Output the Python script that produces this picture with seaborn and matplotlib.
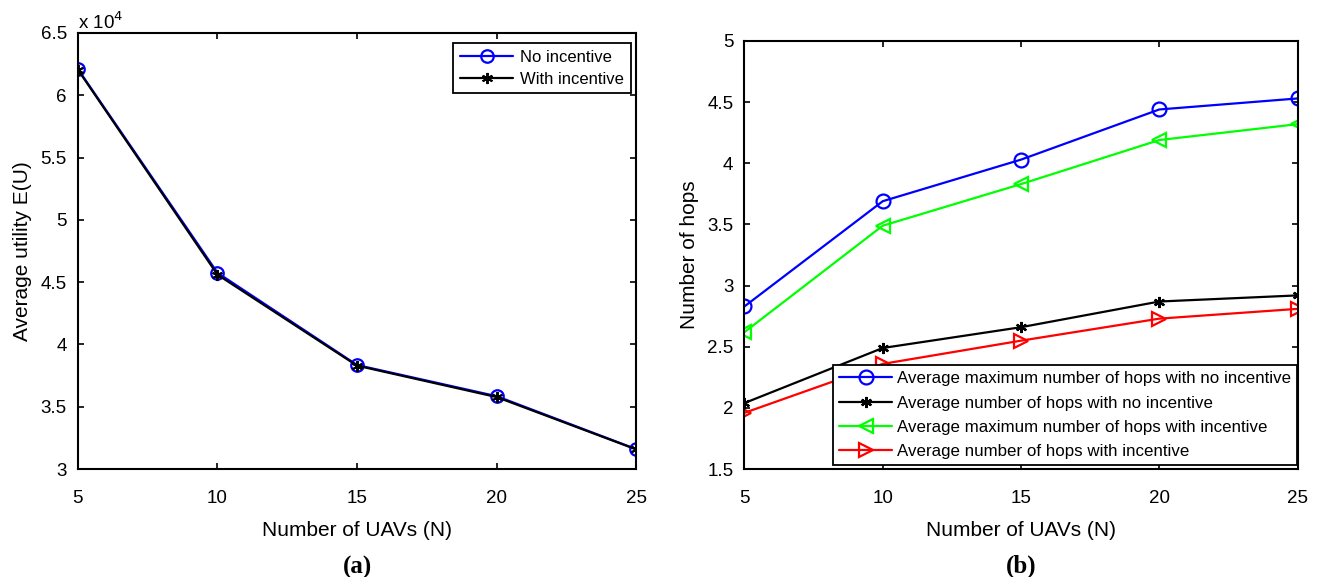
import numpy as np
import pandas as pd
import matplotlib
matplotlib.use("Agg")
import matplotlib.pyplot as plt
from matplotlib.ticker import FuncFormatter
import seaborn as sns

# Number of UAVs
n_uavs = [5, 10, 15, 20, 25]

# (a) average utility E(U)
utility_no_incentive = [62100, 45750, 38350, 35850, 31600]
utility_with_incentive = [62050, 45600, 38300, 35780, 31580]

# (b) number of hops
max_hops_no_incentive = [2.83, 3.69, 4.03, 4.44, 4.53]
avg_hops_no_incentive = [2.04, 2.49, 2.66, 2.87, 2.92]
max_hops_with_incentive = [2.62, 3.49, 3.83, 4.19, 4.32]
avg_hops_with_incentive = [1.96, 2.36, 2.55, 2.73, 2.81]

sns.set_style("ticks")
plt.rcParams["font.family"] = ["Liberation Sans", "DejaVu Sans"]
plt.rcParams["xtick.direction"] = "in"
plt.rcParams["ytick.direction"] = "in"
plt.rcParams["text.color"] = "black"
plt.rcParams["axes.labelcolor"] = "black"
plt.rcParams["xtick.color"] = "black"
plt.rcParams["ytick.color"] = "black"

fig = plt.figure(figsize=(13.2, 5.77), dpi=100)
ax1 = fig.add_axes([0.059, 0.187, 0.423, 0.756])
ax2 = fig.add_axes([0.564, 0.187, 0.419, 0.742])

asterisk = (6, 2, 0)
LW = 1.6

# ---- (a) utility ----
df_a = pd.DataFrame({
    "N": n_uavs * 2,
    "U": utility_no_incentive + utility_with_incentive,
    "s": ["No incentive"] * 5 + ["With incentive"] * 5,
})
styles_a = {
    "No incentive": dict(color="#0000ff", marker="o", mfc="none", ms=9, mew=1.6),
    "With incentive": dict(color="black", marker=asterisk, mfc="black", ms=8, mew=1.4),
}
for name, st in styles_a.items():
    sub = df_a[df_a["s"] == name]
    sns.lineplot(data=sub, x="N", y="U", ax=ax1, label=name, lw=LW,
                 color=st["color"], marker=st["marker"], markersize=st["ms"],
                 markerfacecolor=st["mfc"], markeredgecolor=st["color"],
                 markeredgewidth=st["mew"])

ax1.set_xlim(5, 25)
ax1.set_ylim(30000, 65000)
ax1.set_xticks(n_uavs)
ax1.set_yticks(np.arange(30000, 65001, 5000))
ax1.yaxis.set_major_formatter(FuncFormatter(lambda v, p: f"{v/1e4:g}"))
ax1.text(0.0, 1.0, r"x 10$^4$", transform=ax1.transAxes, fontsize=13.5, ha="left", va="bottom")
ax1.set_xlabel("Number of UAVs (N)", fontsize=15)
ax1.set_ylabel("Average utility E(U)", fontsize=15)
leg1 = ax1.legend(loc="upper right", bbox_to_anchor=(0.99, 0.977), fontsize=12,
                  frameon=True, fancybox=False, edgecolor="black", framealpha=1,
                  borderaxespad=0.0, handlelength=3.2, labelspacing=0.42,
                  borderpad=0.4, handletextpad=0.4)
leg1.get_frame().set_linewidth(1.3)
ax1.text(0.5, -0.2, "(a)", transform=ax1.transAxes, fontsize=18, fontweight="bold",
         family="Liberation Serif", ha="center", va="top")

# ---- (b) hops ----
series_b = [
    ("Average maximum number of hops with no incentive", max_hops_no_incentive,
     dict(color="#0000ff", marker="o", ms=10)),
    ("Average number of hops with no incentive", avg_hops_no_incentive,
     dict(color="black", marker=asterisk, ms=8)),
    ("Average maximum number of hops with incentive", max_hops_with_incentive,
     dict(color="#00ff00", marker="<", ms=10)),
    ("Average number of hops with incentive", avg_hops_with_incentive,
     dict(color="#ff0000", marker=">", ms=10)),
]
for name, vals, st in series_b:
    df_b = pd.DataFrame({"N": n_uavs, "H": vals})
    face = st["color"] if st["marker"] == asterisk else "none"
    sns.lineplot(data=df_b, x="N", y="H", ax=ax2, label=name, lw=LW,
                 color=st["color"], marker=st["marker"], markersize=st["ms"],
                 markerfacecolor=face, markeredgecolor=st["color"], markeredgewidth=1.6)

ax2.set_xlim(5, 25)
ax2.set_ylim(1.5, 5)
ax2.set_xticks(n_uavs)
ax2.set_yticks(np.arange(1.5, 5.01, 0.5))
ax2.yaxis.set_major_formatter(FuncFormatter(lambda v, p: f"{v:g}"))
ax2.set_xlabel("Number of UAVs (N)", fontsize=15)
ax2.set_ylabel("Number of hops", fontsize=15)
leg2 = ax2.legend(loc="lower right", bbox_to_anchor=(0.999, 0.009), fontsize=12.2,
                  frameon=True, fancybox=False, edgecolor="black", framealpha=1,
                  borderaxespad=0.0, handlelength=3.1, labelspacing=0.55,
                  borderpad=0.35, handletextpad=0.3)
leg2.get_frame().set_linewidth(1.3)
ax2.text(0.5, -0.2, "(b)", transform=ax2.transAxes, fontsize=18, fontweight="bold",
         family="Liberation Serif", ha="center", va="top")

for ax in (ax1, ax2):
    for sp in ax.spines.values():
        sp.set_visible(True)
        sp.set_linewidth(1.5)
        sp.set_color("black")
    ax.tick_params(labelsize=13.5, length=4, width=1.2, top=True, right=True, colors="black")
    ax.tick_params(axis="x", pad=15)
    ax.tick_params(axis="y", pad=8)
    ax.xaxis.labelpad = 10
    ax.yaxis.labelpad = 6

fig.savefig("out.png", dpi=100)
